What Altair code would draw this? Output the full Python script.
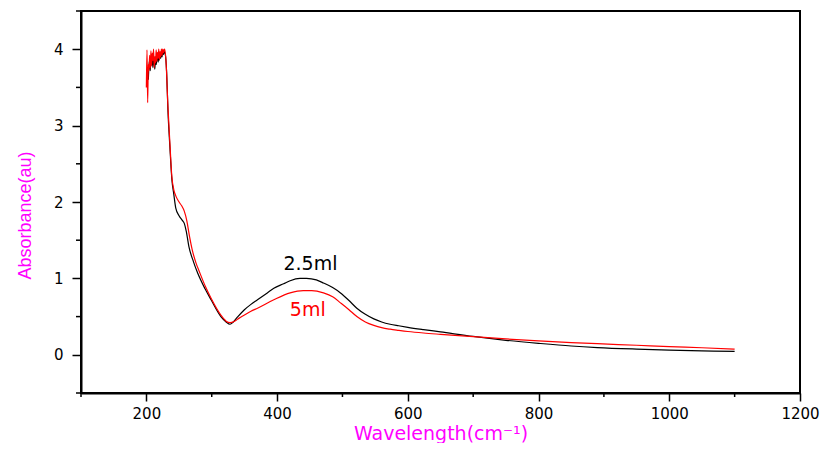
import altair as alt
import pandas as pd

# 2.5 ml series (black)
x_25ml = [203, 204, 205, 206, 207, 208, 209, 210, 211, 212, 213, 214, 215, 216, 217, 218, 219, 220,
          221, 222, 223, 224, 225, 226, 227, 228, 229, 231, 233, 236, 239, 242, 245, 250, 255, 258,
          261, 265, 272, 278, 290, 299, 314, 322, 328, 333, 340, 350, 360, 370, 385, 395, 410, 420,
          435, 445, 460, 471, 485, 497, 510, 522, 535, 548, 560, 573, 586, 600, 624, 650, 700, 750,
          800, 850, 890, 950, 1000, 1050, 1100]
y_25ml = [3.60, 3.78, 3.85, 3.72, 3.90, 3.80, 3.88, 3.76, 3.92, 3.82, 3.74, 3.90, 3.80, 3.88, 3.93,
          3.83, 3.90, 3.86, 3.94, 3.88, 3.95, 3.90, 3.97, 3.93, 3.98, 3.95, 3.93, 3.70, 3.20, 2.72,
          2.30, 2.10, 1.92, 1.82, 1.76, 1.72, 1.62, 1.42, 1.22, 1.08, 0.86, 0.72, 0.50, 0.43, 0.40,
          0.43, 0.50, 0.59, 0.66, 0.72, 0.81, 0.87, 0.93, 0.97, 1.00, 1.00, 0.98, 0.94, 0.88, 0.81,
          0.71, 0.61, 0.53, 0.47, 0.43, 0.40, 0.38, 0.36, 0.33, 0.30, 0.24, 0.19, 0.15, 0.115, 0.095,
          0.075, 0.062, 0.052, 0.045]

# 5 ml series (red)
x_5ml = [200, 201, 202, 203, 204, 205, 206, 207, 208, 209, 210, 211, 212, 213, 214, 215, 216, 217,
         218, 219, 220, 221, 222, 223, 224, 225, 226, 227, 228, 230, 233, 236, 239, 242, 245, 250,
         254, 258, 262, 266, 270, 276, 281, 290, 299, 314, 322, 328, 335, 342, 350, 360, 370, 395,
         420, 440, 453, 471, 485, 497, 510, 522, 535, 548, 560, 573, 586, 600, 624, 650, 700, 750,
         800, 850, 890, 950, 1000, 1050, 1100]
y_5ml = [3.50, 3.99, 3.30, 3.80, 3.72, 3.92, 3.75, 3.98, 3.78, 3.95, 3.85, 4.00, 3.76, 3.90, 3.82,
         3.99, 3.84, 3.96, 3.88, 4.00, 3.86, 3.97, 3.90, 4.00, 3.92, 4.00, 3.95, 3.99, 4.00, 3.85,
         3.25, 2.77, 2.33, 2.16, 2.08, 2.00, 1.95, 1.88, 1.75, 1.55, 1.38, 1.20, 1.09, 0.90, 0.74,
         0.52, 0.44, 0.42, 0.44, 0.48, 0.52, 0.57, 0.61, 0.72, 0.81, 0.84, 0.84, 0.81, 0.76, 0.68,
         0.59, 0.50, 0.43, 0.385, 0.355, 0.335, 0.32, 0.305, 0.285, 0.268, 0.238, 0.208, 0.182,
         0.16, 0.145, 0.125, 0.108, 0.092, 0.075]

series_names = ["2.5ml", "5ml"]
series_colors = ["#000000", "#ff0000"]

label_text = ["2.5ml", "5ml"]
label_x = [451, 447]
label_y = [1.11, 0.51]

x_major = [200, 400, 600, 800, 1000, 1200]
x_minor = [100, 300, 500, 700, 900, 1100]
y_major = [0, 1, 2, 3, 4]
y_minor = [-0.5, 0.5, 1.5, 2.5, 3.5, 4.5]

df = pd.concat([
    pd.DataFrame({"wl": x_25ml, "abs": y_25ml, "s": series_names[0], "o": range(len(x_25ml))}),
    pd.DataFrame({"wl": x_5ml, "abs": y_5ml, "s": series_names[1], "o": range(len(x_5ml))}),
])
lab = pd.DataFrame({"t": label_text, "wl": label_x, "abs": label_y, "s": series_names})
xmin_df = pd.DataFrame({"wl": x_minor})
ymin_df = pd.DataFrame({"abs": y_minor})

W, H = 719, 382

xscale = alt.Scale(domain=[100, 1200], nice=False, zero=False)
yscale = alt.Scale(domain=[-0.5, 4.5], nice=False, zero=False)
cscale = alt.Scale(domain=series_names, range=series_colors)

xaxis = alt.Axis(
    title="Wavelength(cm\u207b\u00b9)", values=x_major, grid=False, format="d",
    tickSize=8, tickWidth=1.5, tickColor="black", domainColor="black", domainWidth=2,
    labelFont="DejaVu Sans", labelFontSize=15, labelColor="black", labelPadding=5,
    labelOverlap=False, labelFlush=False,
    titleFont="DejaVu Sans", titleFontSize=19, titleFontWeight="normal", titleColor="#ff00ff",
    titleBaseline="alphabetic", titleY=46,
)
yaxis = alt.Axis(
    title="Absorbance(au)", values=y_major, grid=False, format="d",
    tickSize=9, tickWidth=1.5, tickColor="black", domainColor="black", domainWidth=2,
    labelFont="DejaVu Sans", labelFontSize=15, labelColor="black", labelPadding=9,
    labelOverlap=False, labelFlush=False,
    titleFont="Liberation Sans", titleFontSize=18, titleFontWeight="normal", titleColor="#ff00ff",
    titleX=-47, titleY=204,
)

lines = alt.Chart(df).mark_line(strokeWidth=1.2, interpolate="monotone").encode(
    x=alt.X("wl:Q", scale=xscale, axis=xaxis),
    y=alt.Y("abs:Q", scale=yscale, axis=yaxis),
    color=alt.Color("s:N", scale=cscale, legend=None),
    detail="s:N",
    order="o:Q",
)

texts = alt.Chart(lab).mark_text(font="DejaVu Sans", fontSize=19, align="center",
                                 baseline="alphabetic").encode(
    x=alt.X("wl:Q", scale=xscale),
    y=alt.Y("abs:Q", scale=yscale),
    text="t:N",
    color=alt.Color("s:N", scale=cscale, legend=None),
)

xminor = alt.Chart(xmin_df).mark_rule(color="black", strokeWidth=1.5).encode(
    x=alt.X("wl:Q", scale=xscale),
    y=alt.value(H),
    y2=alt.value(H + 4),
)
yminor = alt.Chart(ymin_df).mark_rule(color="black", strokeWidth=1.5).encode(
    y=alt.Y("abs:Q", scale=yscale),
    x=alt.value(-5),
    x2=alt.value(0),
)

chart = alt.layer(lines, texts, xminor, yminor).properties(
    width=W, height=H,
    autosize="none",
    padding={"left": 73, "top": 3, "right": 812 - 73 - W, "bottom": 50},
).configure(background="white").configure_view(stroke="black", strokeWidth=2)

chart.save("out.html", embed_options={"renderer": "svg", "actions": False})
